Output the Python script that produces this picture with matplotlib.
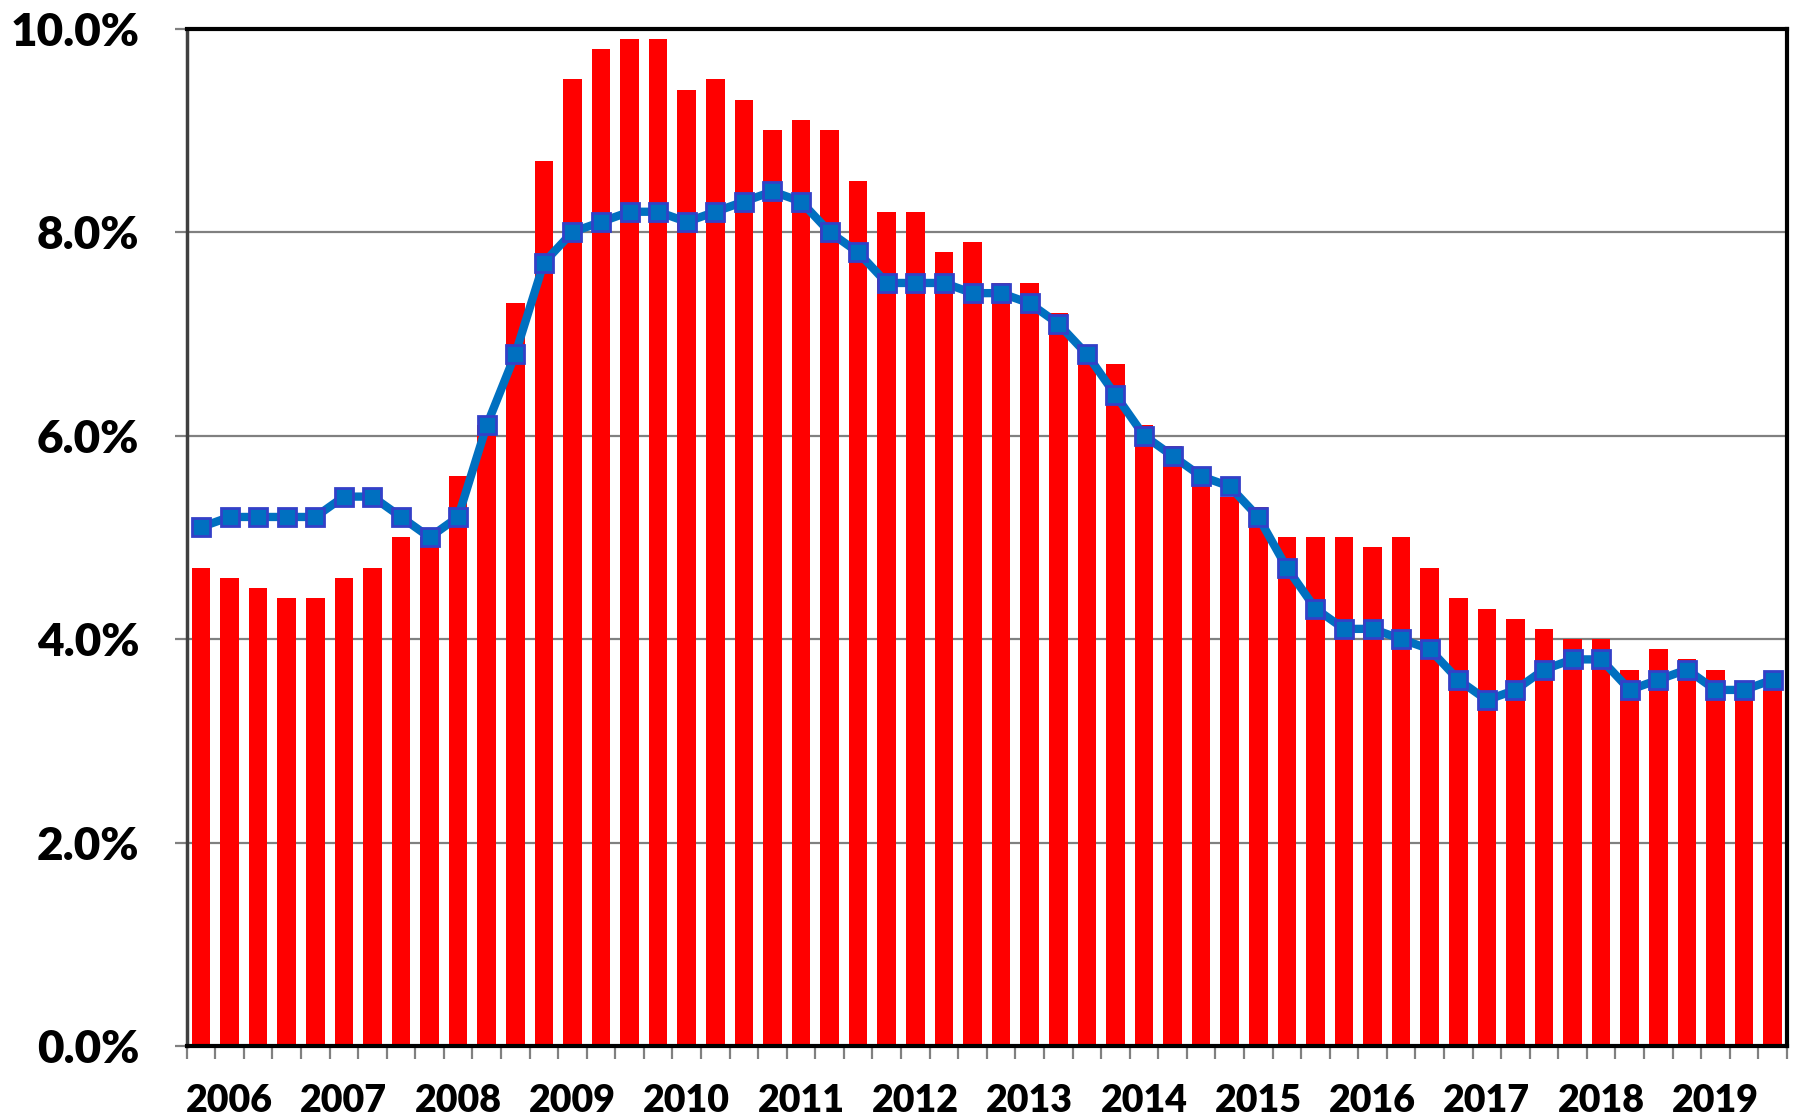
import matplotlib
matplotlib.use("Agg")
import matplotlib.pyplot as plt
import numpy as np
from matplotlib.ticker import FixedLocator, FuncFormatter

years = [str(y) for y in range(2006, 2020)]

bar_values = [
    4.7, 4.6, 4.5, 4.4,   # 2006
    4.4, 4.6, 4.7, 5.0,   # 2007
    5.0, 5.6, 6.1, 7.3,   # 2008
    8.7, 9.5, 9.8, 9.9,   # 2009
    9.9, 9.4, 9.5, 9.3,   # 2010
    9.0, 9.1, 9.0, 8.5,   # 2011
    8.2, 8.2, 7.8, 7.9,   # 2012
    7.5, 7.5, 7.2, 6.7,   # 2013
    6.7, 6.1, 5.9, 5.6,   # 2014
    5.4, 5.3, 5.0, 5.0,   # 2015
    5.0, 4.9, 5.0, 4.7,   # 2016
    4.4, 4.3, 4.2, 4.1,   # 2017
    4.0, 4.0, 3.7, 3.9,   # 2018
    3.8, 3.7, 3.5, 3.5,   # 2019
]

line_values = [
    5.1, 5.2, 5.2, 5.2,
    5.2, 5.4, 5.4, 5.2,
    5.0, 5.2, 6.1, 6.8,
    7.7, 8.0, 8.1, 8.2,
    8.2, 8.1, 8.2, 8.3,
    8.4, 8.3, 8.0, 7.8,
    7.5, 7.5, 7.5, 7.4,
    7.4, 7.3, 7.1, 6.8,
    6.4, 6.0, 5.8, 5.6,
    5.5, 5.2, 4.7, 4.3,
    4.1, 4.1, 4.0, 3.9,
    3.6, 3.4, 3.5, 3.7,
    3.8, 3.8, 3.5, 3.6,
    3.7, 3.5, 3.5, 3.6,
]

y_ticks = [0, 2, 4, 6, 8, 10]

FONT = "Lato"

fig = plt.figure(figsize=(17.95, 11.18), dpi=100)
ax = fig.add_axes([0.104, 0.0644, 0.8915, 0.9100])

x = np.arange(len(bar_values))
ax.bar(x, bar_values, width=0.65, color="#FF0000", zorder=2)
ax.plot(x, line_values, color="#0070C0", linewidth=6, marker="s",
        markersize=13.5, markerfacecolor="#0070C0",
        markeredgecolor="#3340C8", markeredgewidth=2.0, zorder=3)

ax.set_xlim(-0.5, len(bar_values) - 0.5)
ax.set_ylim(0, 10)

# y axis
ax.yaxis.set_major_locator(FixedLocator(y_ticks))
ax.yaxis.set_major_formatter(FuncFormatter(lambda v, p: f"{v:.1f}%"))
ax.grid(axis="y", color="#808080", linewidth=1.6, zorder=1)
ax.set_axisbelow(True)
ax.tick_params(axis="y", which="major", direction="out", length=9,
               width=1.6, color="#808080", pad=25)

# x axis: year labels at Q2 position, ticks at every category boundary
label_pos = [4 * i + 1 for i in range(len(years))]
ax.set_xticks(label_pos)
ax.set_xticklabels(years)
ax.set_xticks(np.arange(-0.5, len(bar_values), 1.0), minor=True)
ax.tick_params(axis="x", which="major", length=0, pad=27)
ax.tick_params(axis="x", which="minor", direction="out", length=9,
               width=1.6, color="#808080")

for lab in ax.get_yticklabels():
    lab.set_fontfamily(FONT)
    lab.set_fontweight("heavy")
    lab.set_fontsize(33)
for lab in ax.get_xticklabels():
    lab.set_fontfamily(FONT)
    lab.set_fontweight("heavy")
    lab.set_fontsize(27)

for side in ["top", "right", "bottom"]:
    ax.spines[side].set_color("black")
    ax.spines[side].set_linewidth(3)
ax.spines["left"].set_color("#404040")
ax.spines["left"].set_linewidth(2.5)

fig.savefig("out.png", dpi=100, facecolor="white")
